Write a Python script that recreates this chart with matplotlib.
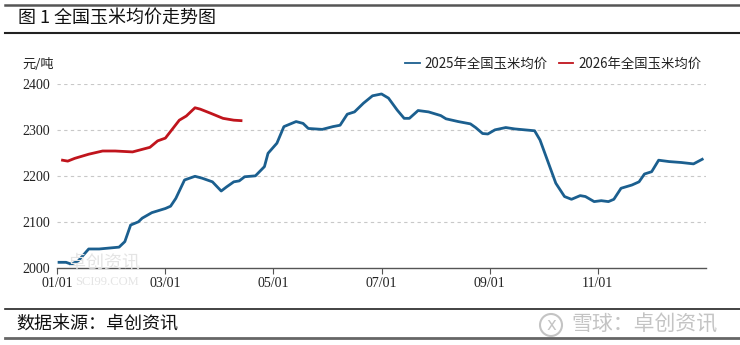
import matplotlib
matplotlib.use("Agg")
import matplotlib.pyplot as plt
from matplotlib.lines import Line2D
from matplotlib.patches import Ellipse
import calendar

plt.rcParams['font.family'] = ['Noto Sans CJK SC', 'DejaVu Sans']

# ---- data ----
dates_2025 = ["01-02","01-06","01-09","01-13","01-19","01-25","02-05","02-08","02-11","02-15",
              "02-17","02-22","03-01","03-04","03-07","03-12","03-18","03-22","03-28","04-02",
              "04-05","04-09","04-12","04-15","04-21","04-26","04-28","05-03","05-07","05-14",
              "05-18","05-21","05-29","06-04","06-08","06-12","06-16","06-21","06-26","07-01",
              "07-05","07-10","07-14","07-17","07-22","07-28","08-04","08-07","08-14","08-21",
              "08-24","08-28","08-31","09-04","09-10","09-15","09-26","09-29","10-08","10-13",
              "10-17","10-22","10-25","10-30","11-03","11-07","11-10","11-14","11-20","11-24",
              "11-27","12-01","12-05","12-11","12-18","12-25","12-30"]
price_2025 = [2013,2013,2009,2016,2042,2042,2046,2058,2094,2101,
              2109,2121,2130,2135,2152,2192,2200,2196,2188,2168,
              2177,2188,2190,2199,2201,2221,2250,2272,2308,2319,
              2315,2304,2302,2308,2311,2335,2340,2359,2375,2379,
              2370,2344,2326,2326,2343,2340,2332,2325,2319,2314,
              2306,2293,2292,2301,2306,2303,2299,2279,2185,2156,
              2150,2158,2156,2145,2147,2145,2150,2174,2181,2188,
              2205,2210,2235,2232,2230,2227,2237]

dates_2026 = ["01-04","01-07","01-11","01-19","01-27","02-03","02-12","02-21","02-25","03-01",
              "03-09","03-13","03-18","03-21","03-27","04-03","04-09","04-13"]
price_2026 = [2235,2233,2239,2248,2255,2255,2253,2263,2277,2283,
              2322,2331,2349,2346,2337,2326,2322,2321]

tick_labels = ["01/01","03/01","05/01","07/01","09/01","11/01"]
yticks = [2000, 2100, 2200, 2300, 2400]
series_names = ["2025年全国玉米均价", "2026年全国玉米均价"]


def month_pos(md, year):
    m, d = map(int, md.split("-"))
    return (m - 1) + (d - 1) / calendar.monthrange(year, m)[1]


x25 = [month_pos(s, 2025) for s in dates_2025]
x26 = [month_pos(s, 2026) for s in dates_2026]
xt = [month_pos(t.replace("/", "-"), 2025) for t in tick_labels]

W, H = 740, 345
fig = plt.figure(figsize=(W/100, H/100), dpi=100)
ax = fig.add_axes([57.3/W, 1-268.3/H, (705.7-57.3)/W, (268.3-84.3)/H])

blue = "#1b5f8f"
red = "#c0141c"
ax.plot(x25, price_2025, color=blue, lw=2.0, clip_on=False, solid_joinstyle='round')
ax.plot(x26, price_2026, color=red, lw=2.0, clip_on=False, solid_joinstyle='round')

ax.set_xlim(0, 12)
ax.set_ylim(2000, 2400)
ax.set_yticks(yticks)
ax.set_xticks(xt)
ax.set_xticklabels(tick_labels)
for y in yticks[1:]:
    ax.axhline(y, color="#c8c8c8", lw=0.8, ls=(0, (3, 3)), zorder=0)

for s in ["top", "right", "left"]:
    ax.spines[s].set_visible(False)
ax.spines["bottom"].set_color("#555555")
ax.spines["bottom"].set_linewidth(1.0)
ax.tick_params(axis="y", length=0, pad=5)
ax.tick_params(axis="x", length=4, direction="out", color="#555555", pad=2)
for lab in ax.get_xticklabels() + ax.get_yticklabels():
    lab.set_family(["Liberation Serif", "DejaVu Serif"])
    lab.set_fontsize(10)
    lab.set_color("#222222")

handles = [Line2D([], [], color=blue, lw=1.3), Line2D([], [], color=red, lw=1.3)]
leg = ax.legend(handles, series_names, loc="upper right", bbox_to_anchor=(0.994, 1.15),
                ncol=2, frameon=False, fontsize=9.6, handlelength=1.1, handletextpad=0.4,
                columnspacing=0.8, borderaxespad=0, borderpad=0)
for t in leg.get_texts():
    t.set_color("#222222")

# texts
fig.text(22/W, 1-65/H, "元/吨", fontsize=9.5, ha="left", va="center", color="#222222")
fig.text(18/W, 1-18/H, "图 1 全国玉米均价走势图", fontsize=13, ha="left", va="center",
         color="#111111")
fig.text(16/W, 1-325/H, "数据来源：卓创资讯", fontsize=13, ha="left", va="center",
         color="#111111")
fig.text(718/W, 1-325/H, "雪球：卓创资讯", fontsize=15, ha="right", va="center",
         color="#c4c4c4")
fig.add_artist(Ellipse((551/W, 1-325/H), 22/W, 22/H, transform=fig.transFigure, fill=False,
                       ec="#c4c4c4", lw=1.5))
fig.text(551/W, 1-325.5/H, "x", fontsize=12, ha="center", va="center", color="#c4c4c4",
         family=["DejaVu Sans"])
# faint watermark at origin
fig.text(68/W, 1-263/H, "卓创资讯", fontsize=13, ha="left", va="center", color="#e4e4e4",
         zorder=0)
fig.text(75/W, 1-282/H, "SCI99.COM", fontsize=9, ha="left", va="center", color="#e4e4e4",
         family=["Liberation Serif"], zorder=0)

# horizontal rules
for y, c, lw in [(4.5, "#555555", 1.8), (33, "#222222", 1.5), (309.3, "#222222", 1.2),
                 (337.5, "#666666", 2.0)]:
    fig.add_artist(Line2D([5/W, 1.0], [1-y/H, 1-y/H], color=c, lw=lw))

fig.savefig("out.png", dpi=100)
